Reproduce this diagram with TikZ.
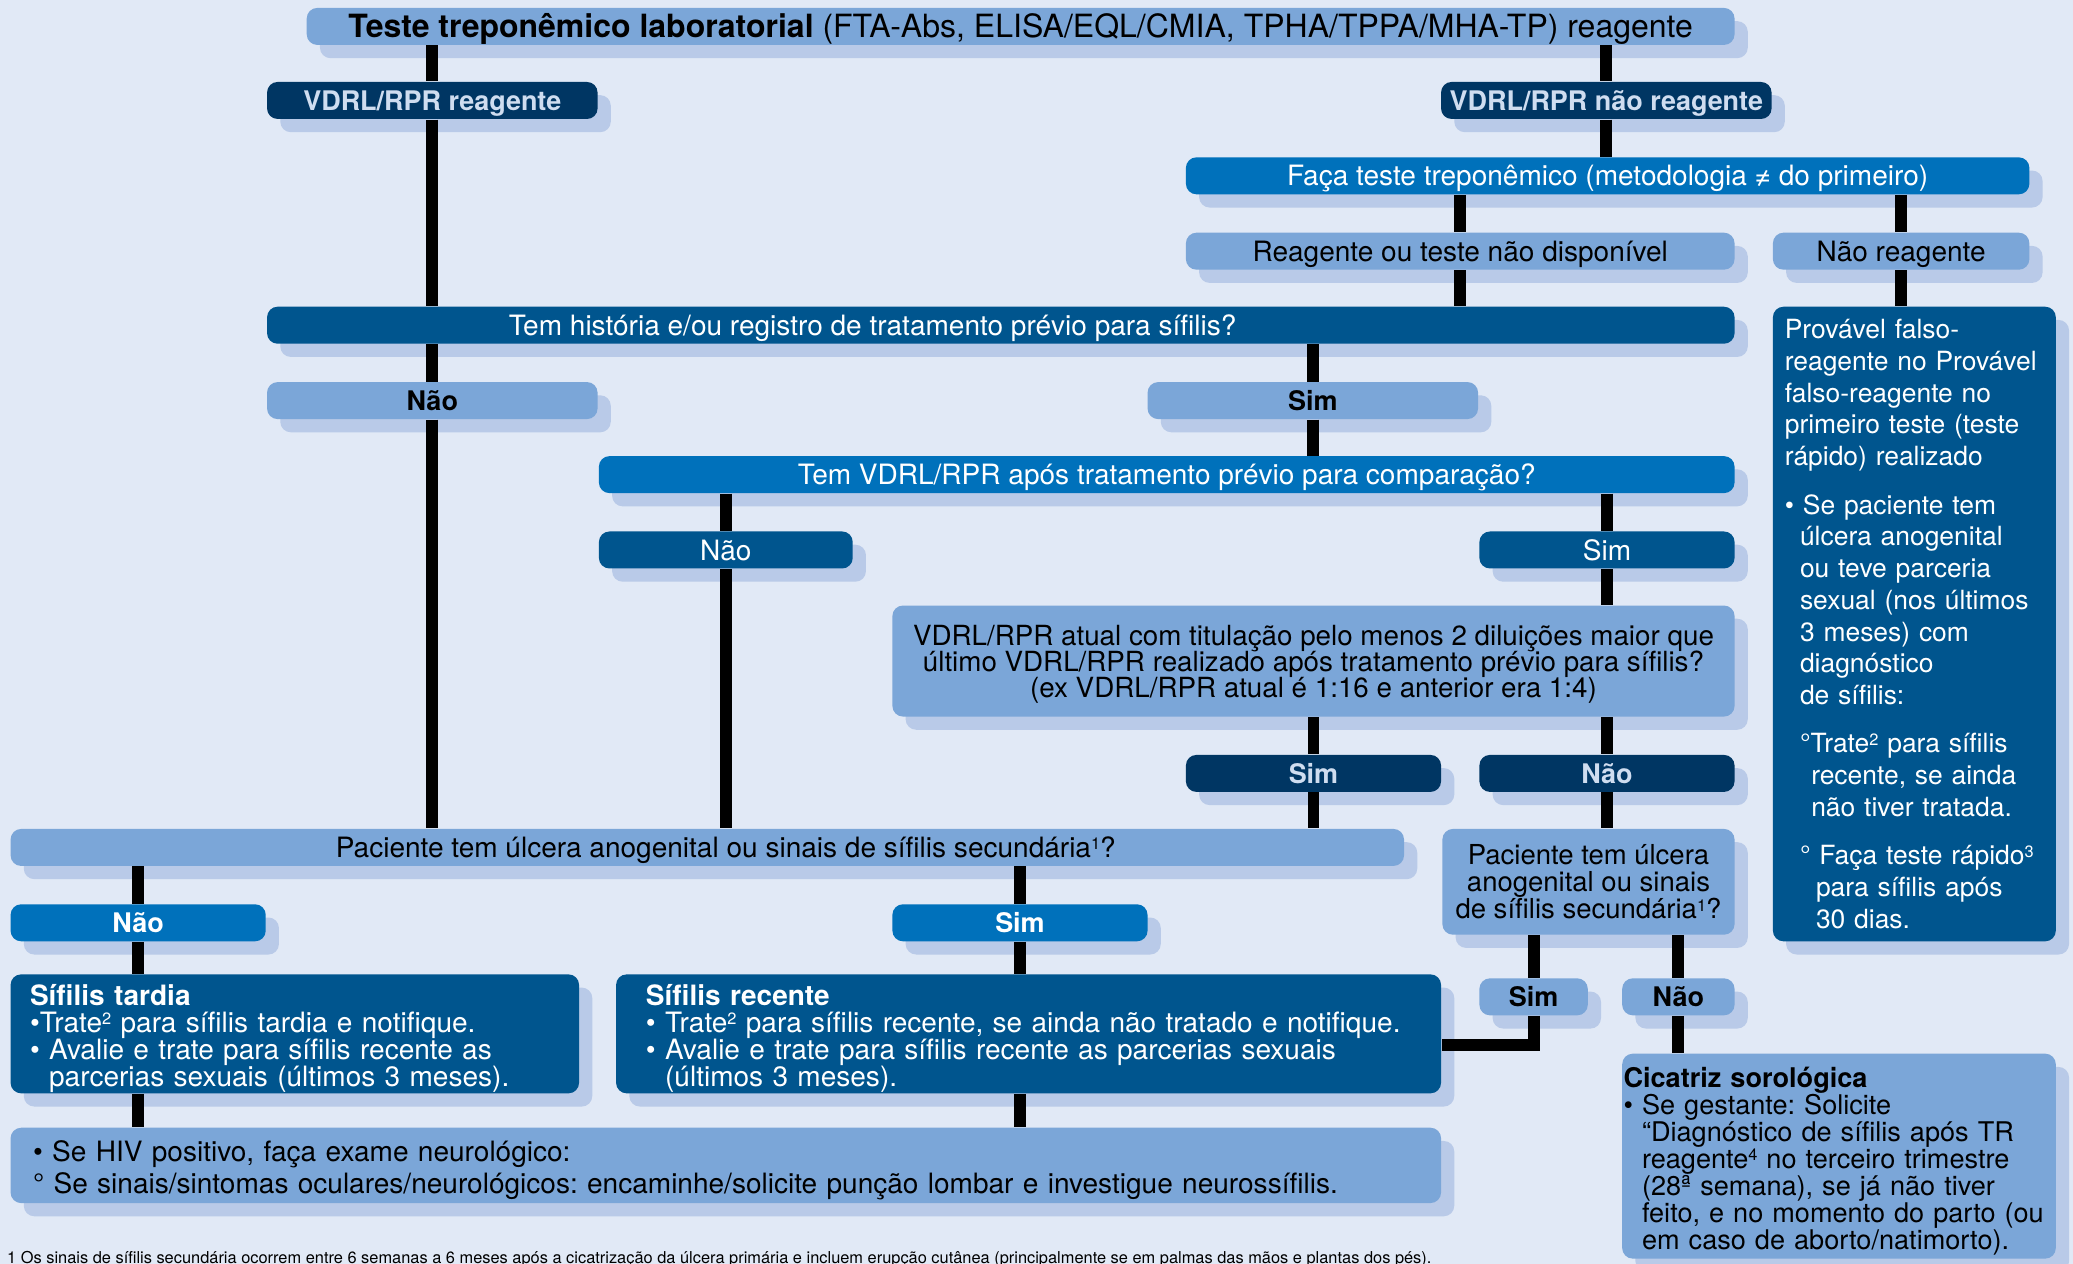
\documentclass[tikz,border=0pt]{standalone}
\usepackage{fontspec}
\setmainfont{TeX Gyre Heros}
\usetikzlibrary{shadows}

\definecolor{bgblue}{HTML}{E1E9F6}
\definecolor{lightblue}{HTML}{7BA6D8}
\definecolor{shadowblue}{HTML}{B9CAE8}
\definecolor{navyblue}{HTML}{003663}
\definecolor{midblue}{HTML}{00558E}
\definecolor{brightblue}{HTML}{0071BB}
\definecolor{navytext}{HTML}{CFDDF0}

\newcommand{\mainsize}{\fontsize{10.6}{12}\selectfont}
\newcommand{\tightsize}{\fontsize{10.6}{10.25}\selectfont}
\newcommand{\lblsize}{\fontsize{10.2}{12}\selectfont\bfseries}
\newcommand{\headsize}{\fontsize{12.1}{14}\selectfont}
\newcommand{\provsize}{\fontsize{10}{12}\selectfont}
\newcommand{\notesize}{\fontsize{6.2}{7}\selectfont}
\newcommand{\bulletgap}{\hphantom{\textbullet\ }}
\newcommand{\sups}[1]{\raisebox{2.9pt}{\fontsize{6.2}{6}\selectfont #1}}
\setlength{\lineskiplimit}{-20pt}
\frenchspacing

\begin{document}
\begin{tikzpicture}[x=0.5pt,y=-0.5pt,
        box/.style={rounded corners=4pt,inner sep=0pt,minimum height=14pt,align=center,font=\mainsize,
          drop shadow={shadow xshift=5pt,shadow yshift=-5pt,fill=shadowblue,opacity=1}},
        single line/.style={text height=10.1pt,text depth=2.5pt},
        light node/.style={box,fill=lightblue,text=black},
        navy node/.style={box,single line,fill=navyblue,text=navytext,font=\lblsize},
        mid node/.style={box,fill=midblue,text=white},
        bright node/.style={box,fill=brightblue,text=white},
        link/.style={draw=black,line width=4.5pt}]

      \fill[bgblue] (0,0) rectangle (1568,956);
      \useasboundingbox (0,0) rectangle (1568,956);

      % first test and its two results
      \node[light node,minimum width=540pt,font=\headsize,text height=11.2pt,text depth=2.5pt] (test) at (772,20)
        {\textbf{Teste treponêmico laboratorial} (FTA-Abs, ELISA/EQL/CMIA, TPHA/TPPA/MHA-TP) reagente};
      \node[navy node,minimum width=125pt] (vdrlR) at (327,76) {VDRL/RPR reagente};
      \node[navy node,minimum width=125pt] (vdrlN) at (1215,76) {VDRL/RPR não reagente};
      \node[bright node,single line,minimum width=319pt] (faca) at (1216,133) {Faça teste treponêmico (metodologia ≠ do primeiro)};
      \node[light node,single line,minimum width=207.5pt] (reag) at (1104.5,190) {Reagente ou teste não disponível};
      \node[light node,single line,minimum width=97pt] (naoReag) at (1438,190) {Não reagente};
      \node[mid node,single line,minimum width=555pt] (hist) at (757,246)
        {Tem história e/ou registro de tratamento prévio para sífilis?\hspace*{97pt}};
      \node[mid node,minimum width=107pt,minimum height=240pt,text width=98pt,inner xsep=4.5pt,
        align=left,font=\provsize] (falso) at (1448,472)
        {Provável falso-\\
         reagente no Provável\\
         falso-reagente no\\
         primeiro teste (teste\\
         rápido) realizado\\[6.3pt]
         \textbullet\ Se paciente tem\\
         \hspace*{5.75pt}úlcera anogenital\\
         \hspace*{5.75pt}ou teve parceria\\
         \hspace*{5.75pt}sexual (nos últimos\\
         \hspace*{5.75pt}3 meses) com\\
         \hspace*{5.75pt}diagnóstico\\
         \hspace*{5.75pt}de sífilis:\\[6.3pt]
         \hspace*{5.75pt}°Trate\sups{2} para sífilis\\
         \hspace*{10pt}recente, se ainda\\
         \hspace*{10pt}não tiver tratada.\\[6.3pt]
         \hspace*{5.75pt}° Faça teste rápido\sups{3}\\
         \hspace*{11.8pt}para sífilis após\\
         \hspace*{11.8pt}30 dias.};

      % previous treatment
      \node[light node,single line,minimum width=125pt,font=\lblsize] (histNao) at (327,303) {Não};
      \node[light node,single line,minimum width=125pt,font=\lblsize] (histSim) at (993,303) {Sim};
      \node[bright node,single line,minimum width=429.5pt] (comp) at (882.5,359) {Tem VDRL/RPR após tratamento prévio para comparação?};
      \node[mid node,single line,minimum width=96pt] (compNao) at (549,416) {Não};
      \node[mid node,single line,minimum width=96.5pt] (compSim) at (1215.5,416) {Sim};
      \node[light node,minimum width=318.5pt,minimum height=42pt,text depth=-0.7pt,
        font=\fontsize{10.5}{9.85}\selectfont] (tit) at (993.5,500)
        {VDRL/RPR atual com titulação pelo menos 2 diluições maior que\\
         último VDRL/RPR realizado após tratamento prévio para sífilis?\\
         (ex VDRL/RPR atual é 1:16 e anterior era 1:4)};
      \node[navy node,minimum width=96.5pt] (titSim) at (993.5,585) {Sim};
      \node[navy node,minimum width=96.5pt] (titNao) at (1215.5,585) {Não};

      % ulcer or secondary signs
      \node[light node,single line,minimum width=527pt] (ulcera) at (535,641)
        {\hspace*{14pt}Paciente tem úlcera anogenital ou sinais de sífilis secundária\sups{1}?};
      \node[light node,minimum width=110.5pt,minimum height=40pt,font=\fontsize{10.4}{10.25}\selectfont] (ulceraB) at (1201.5,667)
        {Paciente tem úlcera\\anogenital ou sinais\\de sífilis secundária\sups{1}?};
      \node[bright node,single line,minimum width=96.5pt,font=\lblsize] (ulceraNao) at (104.5,698) {Não};
      \node[bright node,single line,minimum width=96.5pt,font=\lblsize] (ulceraSim) at (771.5,698) {Sim};
      \node[light node,single line,minimum width=41pt,font=\lblsize] (ulceraBSim) at (1160,754) {Sim};
      \node[light node,single line,minimum width=42.5pt,font=\lblsize] (ulceraBNao) at (1269.5,754) {Não};

      % conclusions
      \node[mid node,minimum width=215pt,minimum height=45pt,text width=200.3pt,inner xsep=7.35pt,
        text height=8pt,text depth=29.8pt,align=left,font=\tightsize] (tardia) at (223,782)
        {\textbf{Sífilis tardia}\\
         \textbullet Trate\sups{2} para sífilis tardia e notifique.\\
         \textbullet\ Avalie e trate para sífilis recente as\\
         \bulletgap parcerias sexuais (últimos 3 meses).};
      \node[mid node,minimum width=312pt,minimum height=45pt,text width=289.4pt,inner xsep=11.3pt,
        text height=8pt,text depth=29.8pt,align=left,font=\tightsize] (recente) at (778,782)
        {\textbf{Sífilis recente}\\
         \textbullet\ Trate\sups{2} para sífilis recente, se ainda não tratado e notifique.\\
         \textbullet\ Avalie e trate para sífilis recente as parcerias sexuais\\
         \bulletgap (últimos 3 meses).};
      \node[light node,minimum width=164pt,minimum height=77.5pt,text width=163pt,inner xsep=0.5pt,
        text height=8pt,text depth=60.1pt,align=left,font=\fontsize{10.25}{10.2}\selectfont] (cicatriz) at (1391,874.5)
        {\textbf{Cicatriz sorológica}\\
         \textbullet\ Se gestante: Solicite\\
         \bulletgap “Diagnóstico de sífilis após TR\\
         \bulletgap reagente\sups{4} no terceiro trimestre\\
         \bulletgap (28ª semana), se já não tiver\\
         \bulletgap feito, e no momento do parto (ou\\
         \bulletgap em caso de aborto/natimorto).};
      \node[light node,minimum width=541pt,minimum height=28.5pt,text width=524pt,inner xsep=8.5pt,
        text height=8pt,text depth=10.9pt,align=left] (hiv) at (549,881.5)
        {\textbullet\ Se HIV positivo, faça exame neurológico:\\
         ° Se sinais/sintomas oculares/neurológicos: encaminhe/solicite punção lombar e investigue neurossífilis.};

      \node[font=\notesize,anchor=base west,inner sep=0pt] (nota) at (5,956)
        {1 Os sinais de sífilis secundária ocorrem entre 6 semanas a 6 meses após a cicatrização da úlcera primária e incluem erupção cutânea (principalmente se em palmas das mãos e plantas dos pés).};

      \path[link]
        (test.south -| vdrlR) edge (vdrlR.north)
        (vdrlR.south) edge (vdrlR.south |- hist.north)
        (hist.south -| histNao) edge (histNao.north)
        (histNao.south) edge (histNao.south |- ulcera.north)
        (test.south -| vdrlN) edge (vdrlN.north)
        (vdrlN.south) edge (vdrlN.south |- faca.north)
        (faca.south -| reag) edge (reag.north)
        (faca.south -| naoReag) edge (naoReag.north)
        (reag.south) edge (reag.south |- hist.north)
        (naoReag.south) edge (naoReag.south |- falso.north)
        (hist.south -| histSim) edge (histSim.north)
        (histSim.south) edge (histSim.south |- comp.north)
        (comp.south -| compNao) edge (compNao.north)
        (compNao.south) edge (compNao.south |- ulcera.north)
        (comp.south -| compSim) edge (compSim.north)
        (compSim.south) edge (compSim.south |- tit.north)
        (tit.south -| titSim) edge (titSim.north)
        (titSim.south) edge (titSim.south |- ulcera.north)
        (tit.south -| titNao) edge (titNao.north)
        (titNao.south) edge (titNao.south |- ulceraB.north)
        (ulcera.south -| ulceraNao) edge (ulceraNao.north)
        (ulceraNao.south) edge (ulceraNao.south |- tardia.north)
        (ulcera.south -| ulceraSim) edge (ulceraSim.north)
        (ulceraSim.south) edge (ulceraSim.south |- recente.north)
        (tardia.south -| ulceraNao) edge (hiv.north -| ulceraNao)
        (recente.south -| ulceraSim) edge (hiv.north -| ulceraSim)
        (ulceraB.south -| ulceraBSim) edge (ulceraBSim.north)
        (ulceraB.south -| ulceraBNao) edge (ulceraBNao.north)
        (ulceraBNao.south) edge (ulceraBNao.south |- cicatriz.north);
      \draw[link] (ulceraBSim.south) |- ([yshift=-4.35pt]recente.east);
    \end{tikzpicture}
\end{document}
